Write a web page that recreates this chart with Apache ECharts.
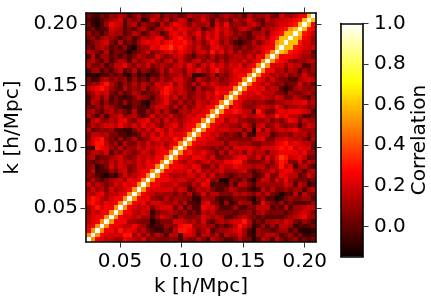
<!DOCTYPE html>
<html><head><meta charset="utf-8">
<style>html,body{margin:0;padding:0;background:#fff}#c{width:431px;height:303px}</style>
<script src="https://cdn.jsdelivr.net/npm/echarts@6/dist/echarts.min.js"></script>
</head><body><div id="c"></div>
<script>
// Axis facts
var kMin = 0.0224, kMax = 0.2092, binCount = 50;
var kTicks = [0.05, 0.10, 0.15, 0.20];
var corrMin = -0.148, corrMax = 1.0;
var corrTicks = [0.0, 0.2, 0.4, 0.6, 0.8, 1.0];
// Correlation for each level character
var levelChars = "0123456789abcdef";
var levelValues = [-0.11,-0.07,-0.02,0.05,0.11,0.16,0.21,0.25,0.30,0.37,0.52,0.60,0.66,0.75,0.85,1.0];
// Upper triangle read by eye: image rows from the top, columns from the left, up to the diagonal
var triangleRows = [
"3213243542 3523452434 2354454324 5434253445 32644577bf",
"2102345624 3412643524 6523464253 4253464325 4556678bf",
"3102476524 5243325357 6535445264 7344356424 456678bf",
"2312265423 2453244675 7654523475 6435643254 5678abf",
"4231354423 5423542367 5745746574 6534324453 678bbf",
"3424543234 2354576357 8653647574 5342323564 78bbf",
"2345632523 2467675787 7864535763 5321235346 7abf",
"3245423241 0344768897 8754643675 4532434567 7bf",
"5432523320 2346345675 7653564857 4635345468 af",
"2524423232 3543364345 6432443534 345546476a f",
"4532423542 5345643563 6435635435 35546467af",
"5334235574 3546345435 6475364756 465746 7af",
"2442324523 5243235365 4365754685 457667af",
"0101232310 3120224344 5351023524 35677af",
"3124534342 4232435346 6432543453 4567af",
"3446853243 5354365573 6435364654 467af",
"5678643253 4352456875 6432534476 67af",
"3465632423 5423347864 6533546587 7af",
"2453523212 3543245746 3534546575 af",
"2542423242 3310345743 534365467a f",
"3243543211 3220466535 35346577af",
"4532453432 5224353532 4546567af",
"5324245634 5323645464 356577af",
"2564354674 3567453645 45677af",
"3545665754 6475643567 4677af",
"5234342211 3546476475 567af",
"3554533221 2354647576 67af",
"3678432423 5234675658 7af",
"4688534253 3546456467 af",
"2187643534 464656757a f",
"3554624354 34654677af",
"4523345643 4656577af",
"3234354645 465767af",
"3412364653 46577af",
"3512243563 4677af",
"4321021364 567af",
"3532345647 67af",
"6354346576 7af",
"4645364567 af",
"546745567a f",
"68754677af",
"7865767af",
"468677af",
"46577af",
"5677af",
"567af",
"67af",
"7af",
"af",
"f"
];

var hotStops = [[0,[10,0,0]],[0.365,[255,0,0]],[0.746,[255,255,0]],[1,[255,255,255]]];
function rgb(c){return 'rgb('+c.map(Math.round).join(',')+')';}
function hot(v){
  var t=Math.max(0,Math.min(1,(v-corrMin)/(corrMax-corrMin)));
  for(var i=1;i<hotStops.length;i++){
    if(t<=hotStops[i][0]){
      var a=hotStops[i-1],b=hotStops[i],f=(t-a[0])/(b[0]-a[0]);
      return rgb(a[1].map(function(x,j){return x+(b[1][j]-x)*f;}));
    }
  }
  return 'rgb(255,255,255)';
}
var dk=(kMax-kMin)/binCount;
function kAt(i){return kMin+(i+0.5)*dk;}
var cells=[];
triangleRows.forEach(function(str,r){
  var row=str.replace(/\s/g,'');
  for(var c=0;c<row.length && c<binCount-r;c++){
    var v=levelValues[levelChars.indexOf(row[c])];
    var yi=binCount-1-r;
    cells.push([kAt(c),kAt(yi),v]);
    if(c!==yi) cells.push([kAt(yi),kAt(c),v]);
  }
});
var font='DejaVu Sans', fs=20, tickCol='#333';
function snap(p){return Math.round(+p.toFixed(2));}
function frameAxis(extra){
  var base={axisLine:{show:true,onZero:false,lineStyle:{color:'#000',width:1.6}},splitLine:{show:false},z:6,
    axisLabel:{show:false},axisTick:{show:false}};
  return Object.assign(base,extra);
}
function tickAxis(vals,labelled,margin){
  return {
    axisTick:{show:true,length:5.5,inside:false,lineStyle:{color:tickCol,width:1},customValues:vals},
    axisLabel:{show:!!labelled,customValues:vals,margin:margin,color:'#000',fontFamily:font,fontSize:fs,
      formatter:function(v){return (+v).toFixed(labelled===2?1:2);}}
  };
}
var chart=echarts.init(document.getElementById('c'),null,{renderer:'canvas'});
chart.setOption({
  animation:false,backgroundColor:'#fff',
  grid:[{left:86,top:13,width:230,height:229,outerBoundsMode:'none'},{left:341,top:23.5,width:22,height:233,outerBoundsMode:'none'}],
  xAxis:[
    frameAxis(Object.assign({type:'value',gridIndex:0,position:'bottom',min:kMin,max:kMax,
      name:'k [h/Mpc]',nameLocation:'middle',nameGap:35,nameTextStyle:{color:'#000',fontFamily:font,fontSize:fs}},tickAxis(kTicks,true,10))),
    frameAxis(Object.assign({type:'value',gridIndex:0,position:'top',min:kMin,max:kMax},tickAxis(kTicks,false,0))),
    frameAxis({type:'value',gridIndex:1,position:'bottom',min:0,max:1}),
    frameAxis({type:'value',gridIndex:1,position:'top',min:0,max:1})
  ],
  yAxis:[
    frameAxis(Object.assign({type:'value',gridIndex:0,position:'left',min:kMin,max:kMax,
      name:'k [h/Mpc]',nameLocation:'middle',nameGap:61,nameRotate:90,nameTextStyle:{color:'#000',fontFamily:font,fontSize:fs}},tickAxis(kTicks,true,8))),
    frameAxis(Object.assign({type:'value',gridIndex:0,position:'right',min:kMin,max:kMax},tickAxis(kTicks,false,0))),
    frameAxis({type:'value',gridIndex:1,position:'left',min:corrMin,max:corrMax}),
    frameAxis(Object.assign({type:'value',gridIndex:1,position:'right',min:corrMin,max:corrMax,
      name:'Correlation',nameLocation:'middle',nameGap:47,nameRotate:90,nameTextStyle:{color:'#000',fontFamily:font,fontSize:fs}},tickAxis(corrTicks,2,11)))
  ],
  series:[
    {type:'custom',coordinateSystem:'cartesian2d',xAxisIndex:0,yAxisIndex:0,silent:true,clip:true,z:2,
      encode:{x:0,y:1},data:cells,
      renderItem:function(p,api){
        var x=api.value(0),y=api.value(1),col=hot(api.value(2));
        var a=api.coord([x-dk/2,y+dk/2]),b=api.coord([x+dk/2,y-dk/2]);
        var x0=snap(a[0]),y0=snap(a[1]),x1=snap(b[0]),y1=snap(b[1]);
        return {type:'rect',shape:{x:x0,y:y0,width:x1-x0,height:y1-y0},style:{fill:col}};
      }},
    {type:'custom',coordinateSystem:'cartesian2d',xAxisIndex:2,yAxisIndex:2,silent:true,z:2,
      encode:{x:0,y:1},data:[[0,corrMin,1,corrMax]],
      renderItem:function(p,api){
        var a=api.coord([api.value(0),api.value(3)]),b=api.coord([api.value(2),api.value(1)]);
        return {type:'rect',shape:{x:a[0],y:a[1],width:b[0]-a[0],height:b[1]-a[1]},
          style:{fill:new echarts.graphic.LinearGradient(0,1,0,0,hotStops.map(function(s){return {offset:s[0],color:rgb(s[1])};}))}};
      }}
  ]
});
</script></body></html>
